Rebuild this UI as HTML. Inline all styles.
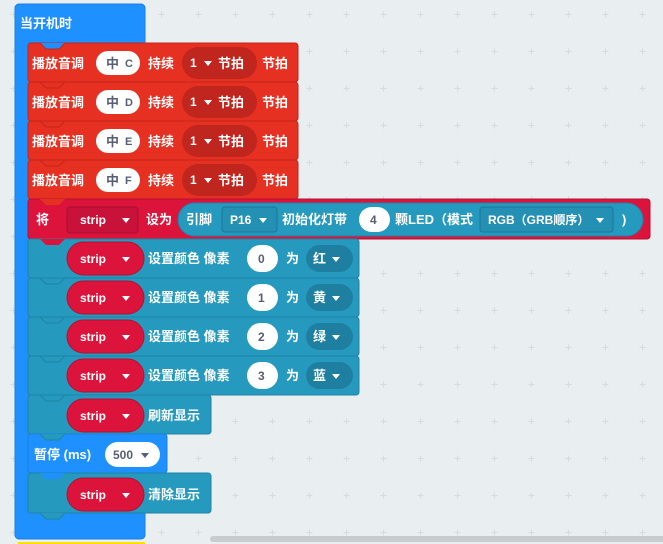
<!DOCTYPE html>
<html><head><meta charset="utf-8">
<style>
html,body{margin:0;padding:0;background:#e9eef0;width:663px;height:544px;overflow:hidden}
svg{display:block}
text{font-family:"Liberation Sans","Noto Sans CJK SC",sans-serif;font-weight:bold;font-size:13px;fill:#fff}
.m{font-family:"Liberation Sans","Noto Sans CJK SC",sans-serif;font-size:12px}
.d{fill:#575e75}
.t{stroke:#1f84a6;stroke-width:1;fill:#2699bf}
</style></head><body>
<svg width="663" height="544" viewBox="0 0 663 544">
<defs>
<pattern id="g" x="13" y="14" width="37" height="37" patternUnits="userSpaceOnUse">
<path d="M0 -3V3M-3 0H3" stroke="#d6dbde" stroke-width="1" transform="translate(0.5,0.5)"/>
<path d="M37 -3V3M34 0H40M0 34V40M-3 37H3M37 34V40M34 37H40" stroke="#d6dbde" stroke-width="1" transform="translate(0.5,0.5)"/>
</pattern>
</defs>
<rect width="663" height="544" fill="url(#g)"/>

<rect x="15" y="4" width="130" height="535" rx="4" fill="#1e90ff" stroke="#1a7fe0"/>
<text x="20" y="28">当开机时</text>

<rect x="28" y="43" width="270" height="39" rx="3" fill="#e63022" stroke="#c4261b"/>
<path d="M40 43 L46 49 L59 49 L65 43Z" fill="#1e90ff"/>
<path d="M40 43 L46 49 L59 49 L65 43" fill="none" stroke="#c4261b"/>
<text x="32" y="68">播放音调</text>
<rect x="96" y="51" width="44" height="24" rx="12" fill="#fff"/>
<text x="106" y="68" class="d">中</text><text x="125" y="67" class="m d" style="font-size:11px">C</text>
<text x="148" y="68">持续</text>
<rect x="182" y="47" width="75" height="32" rx="16" fill="#c0261d"/>
<text x="190" y="67" class="m">1</text><path d="M204 61h8l-4 5z" fill="#fff"/>
<text x="218" y="68">节拍</text>
<text x="262" y="68">节拍</text>

<rect x="28" y="82" width="270" height="39" rx="3" fill="#e63022" stroke="#c4261b"/>
<path d="M40 82 L46 88 L59 88 L65 82" fill="none" stroke="#c4261b"/>
<text x="32" y="107">播放音调</text>
<rect x="96" y="90" width="44" height="24" rx="12" fill="#fff"/>
<text x="106" y="107" class="d">中</text><text x="125" y="106" class="m d" style="font-size:11px">D</text>
<text x="148" y="107">持续</text>
<rect x="182" y="86" width="75" height="32" rx="16" fill="#c0261d"/>
<text x="190" y="106" class="m">1</text><path d="M204 100h8l-4 5z" fill="#fff"/>
<text x="218" y="107">节拍</text><text x="262" y="107">节拍</text>

<rect x="28" y="121" width="270" height="39" rx="3" fill="#e63022" stroke="#c4261b"/>
<path d="M40 121 L46 127 L59 127 L65 121" fill="none" stroke="#c4261b"/>
<text x="32" y="146">播放音调</text>
<rect x="96" y="129" width="44" height="24" rx="12" fill="#fff"/>
<text x="106" y="146" class="d">中</text><text x="125" y="145" class="m d" style="font-size:11px">E</text>
<text x="148" y="146">持续</text>
<rect x="182" y="125" width="75" height="32" rx="16" fill="#c0261d"/>
<text x="190" y="145" class="m">1</text><path d="M204 139h8l-4 5z" fill="#fff"/>
<text x="218" y="146">节拍</text><text x="262" y="146">节拍</text>

<rect x="28" y="160" width="270" height="39" rx="3" fill="#e63022" stroke="#c4261b"/>
<path d="M40 160 L46 166 L59 166 L65 160" fill="none" stroke="#c4261b"/>
<text x="32" y="185">播放音调</text>
<rect x="96" y="168" width="44" height="24" rx="12" fill="#fff"/>
<text x="106" y="185" class="d">中</text><text x="125" y="184" class="m d" style="font-size:11px">F</text>
<text x="148" y="185">持续</text>
<rect x="182" y="164" width="75" height="32" rx="16" fill="#c0261d"/>
<text x="190" y="184" class="m">1</text><path d="M204 178h8l-4 5z" fill="#fff"/>
<text x="218" y="185">节拍</text><text x="262" y="185">节拍</text>

<rect x="28" y="199" width="622" height="40" rx="3" fill="#dc143c" stroke="#b51032"/>
<path d="M40 199 L46 205 L59 205 L65 199Z" fill="#e63022"/>
<text x="36" y="224">将</text>
<rect x="67" y="207" width="71" height="26" rx="3" fill="#c8123a" stroke="#a80e30"/>
<text x="80" y="224" class="m">strip</text><path d="M122 218h8l-4 5z" fill="#fff"/>
<text x="146" y="224">设为</text>
<rect x="178" y="203" width="465" height="33" rx="16.5" fill="#2699bf" stroke="#1f84a6"/>
<text x="186" y="224">引脚</text>
<rect x="222" y="207" width="55" height="25" rx="3" fill="#2490b4" stroke="#1c7697"/>
<text x="230" y="224" class="m">P16</text><path d="M259 218h8l-4 5z" fill="#fff"/>
<text x="282" y="224">初始化灯带</text>
<rect x="359" y="207" width="31" height="25" rx="12.5" fill="#fff"/>
<text x="370" y="224" class="m d">4</text>
<text x="395" y="224">颗LED（模式</text>
<rect x="480" y="207" width="133" height="25" rx="3" fill="#2490b4" stroke="#1c7697"/>
<text x="488" y="224" style="font-size:12px">RGB（GRB顺序）</text><path d="M596 218h8l-4 5z" fill="#fff"/>
<text x="622" y="224">)</text>

<rect x="28" y="239" width="331" height="39" rx="3" fill="#2699bf" stroke="#1f84a6"/>
<path d="M40 239 L46 245 L59 245 L65 239Z" fill="#dc143c"/>
<rect x="67" y="242" width="77" height="33" rx="16.5" fill="#dc143c" stroke="#b51032"/>
<text x="80" y="263" class="m">strip</text><path d="M122 257h8l-4 5z" fill="#fff"/>
<text x="148" y="263">设置颜色 像素</text>
<rect x="247" y="245" width="31" height="27" rx="13.5" fill="#fff"/>
<text x="258" y="263" class="m d">0</text>
<text x="286" y="263">为</text>
<rect x="306" y="245" width="47" height="27" rx="13.5" fill="#1f7fa0"/>
<text x="313" y="263">红</text><path d="M332 257h8l-4 5z" fill="#fff"/>

<rect x="28" y="278" width="331" height="39" rx="3" fill="#2699bf" stroke="#1f84a6"/>
<path d="M40 278 L46 284 L59 284 L65 278" fill="none" stroke="#1f84a6"/>
<rect x="67" y="281" width="77" height="33" rx="16.5" fill="#dc143c" stroke="#b51032"/>
<text x="80" y="302" class="m">strip</text><path d="M122 296h8l-4 5z" fill="#fff"/>
<text x="148" y="302">设置颜色 像素</text>
<rect x="247" y="284" width="31" height="27" rx="13.5" fill="#fff"/>
<text x="258" y="302" class="m d">1</text>
<text x="286" y="302">为</text>
<rect x="306" y="284" width="47" height="27" rx="13.5" fill="#1f7fa0"/>
<text x="313" y="302">黄</text><path d="M332 296h8l-4 5z" fill="#fff"/>

<rect x="28" y="317" width="331" height="39" rx="3" fill="#2699bf" stroke="#1f84a6"/>
<path d="M40 317 L46 323 L59 323 L65 317" fill="none" stroke="#1f84a6"/>
<rect x="67" y="320" width="77" height="33" rx="16.5" fill="#dc143c" stroke="#b51032"/>
<text x="80" y="341" class="m">strip</text><path d="M122 335h8l-4 5z" fill="#fff"/>
<text x="148" y="341">设置颜色 像素</text>
<rect x="247" y="323" width="31" height="27" rx="13.5" fill="#fff"/>
<text x="258" y="341" class="m d">2</text>
<text x="286" y="341">为</text>
<rect x="306" y="323" width="47" height="27" rx="13.5" fill="#1f7fa0"/>
<text x="313" y="341">绿</text><path d="M332 335h8l-4 5z" fill="#fff"/>

<rect x="28" y="356" width="331" height="39" rx="3" fill="#2699bf" stroke="#1f84a6"/>
<path d="M40 356 L46 362 L59 362 L65 356" fill="none" stroke="#1f84a6"/>
<rect x="67" y="359" width="77" height="33" rx="16.5" fill="#dc143c" stroke="#b51032"/>
<text x="80" y="380" class="m">strip</text><path d="M122 374h8l-4 5z" fill="#fff"/>
<text x="148" y="380">设置颜色 像素</text>
<rect x="247" y="362" width="31" height="27" rx="13.5" fill="#fff"/>
<text x="258" y="380" class="m d">3</text>
<text x="286" y="380">为</text>
<rect x="306" y="362" width="47" height="27" rx="13.5" fill="#1f7fa0"/>
<text x="313" y="380">蓝</text><path d="M332 374h8l-4 5z" fill="#fff"/>

<rect x="28" y="395" width="183" height="39" rx="3" fill="#2699bf" stroke="#1f84a6"/>
<path d="M40 395 L46 401 L59 401 L65 395" fill="none" stroke="#1f84a6"/>
<rect x="67" y="399" width="77" height="33" rx="16.5" fill="#dc143c" stroke="#b51032"/>
<text x="80" y="420" class="m">strip</text><path d="M122 414h8l-4 5z" fill="#fff"/>
<text x="148" y="420">刷新显示</text>

<rect x="28" y="434" width="139" height="39" rx="3" fill="#1e90ff" stroke="#1a7fe0"/>
<path d="M40 434 L46 440 L59 440 L65 434Z" fill="#2699bf"/>
<path d="M40 434 L46 440 L59 440 L65 434" fill="none" stroke="#1f84a6"/>
<text x="34" y="459">暂停 (ms)</text>
<rect x="105" y="442" width="55" height="25" rx="12.5" fill="#fff"/>
<text x="113" y="459" class="m d">500</text><path d="M141 453h8l-4 5z" fill="#575e75"/>

<rect x="28" y="473" width="183" height="40" rx="3" fill="#2699bf" stroke="#1f84a6"/>
<path d="M40 473 L46 479 L59 479 L65 473Z" fill="#1e90ff"/>
<rect x="67" y="478" width="77" height="33" rx="16.5" fill="#dc143c" stroke="#b51032"/>
<text x="80" y="499" class="m">strip</text><path d="M122 493h8l-4 5z" fill="#fff"/>
<text x="148" y="499">清除显示</text>
<path d="M40 513 L46 519 L59 519 L65 513Z" fill="#2699bf"/>
<path d="M40 513 L46 519 L59 519 L65 513" fill="none" stroke="#1f84a6"/>

<rect x="210" y="536" width="460" height="6" rx="3" fill="#c9cccf"/>
<rect x="18" y="542" width="127" height="2" fill="#ffe000"/>
</svg>
</body></html>
